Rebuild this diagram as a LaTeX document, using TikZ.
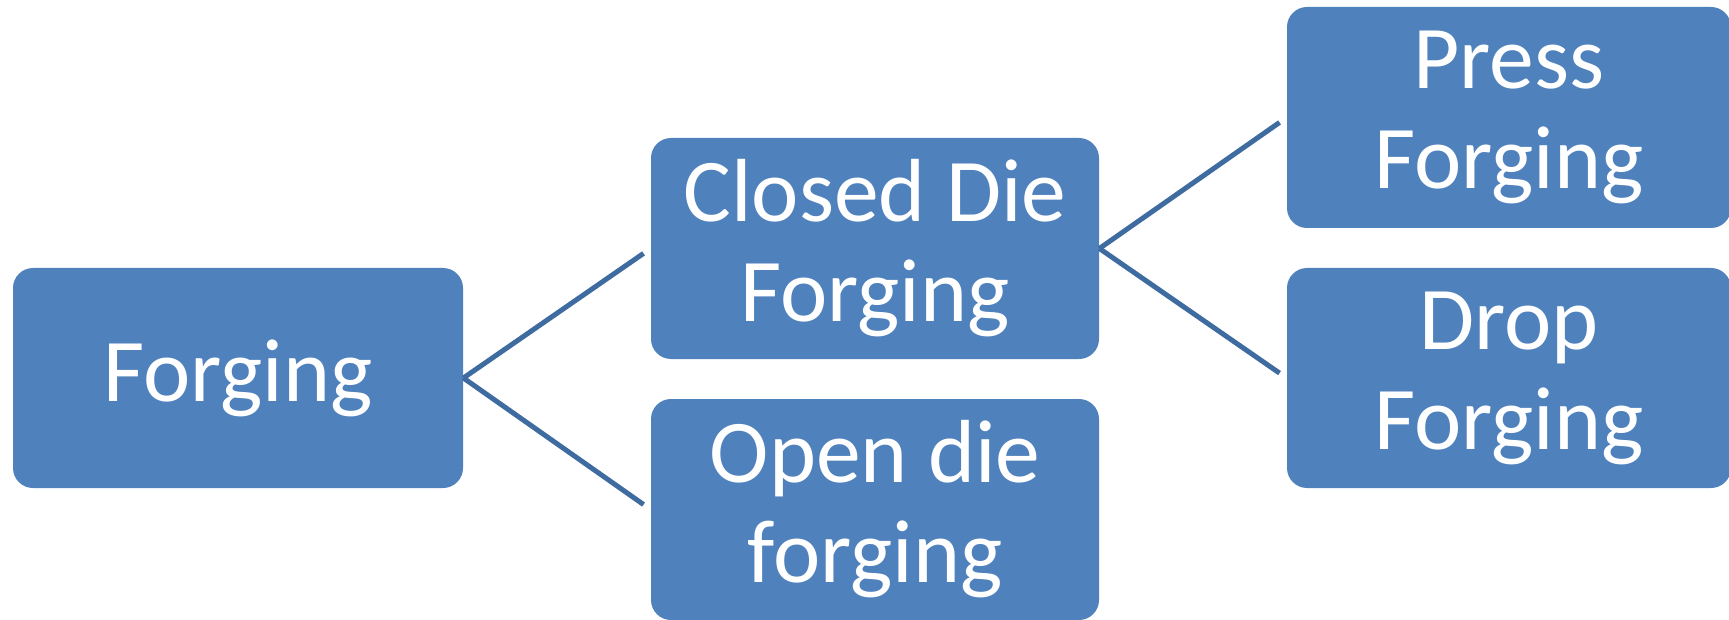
\documentclass[tikz,border=0pt]{standalone}
\usepackage{fontspec}
\setmainfont{Carlito}
\usepackage{tikz}
\definecolor{boxblue}{RGB}{79,129,189}
\definecolor{lineblue}{RGB}{63,108,160}

\begin{document}
\begin{tikzpicture}[x=0.5pt,y=-0.5pt,
    box/.style={fill=boxblue, rounded corners=10pt, minimum width=224pt, minimum height=110.5pt,
      inner sep=0pt, align=center, text=white, font=\fontsize{44.8}{50}\selectfont},
    link/.style={draw=lineblue, line width=2.5pt, shorten >=4.3pt}]
    \useasboundingbox (0,0) rectangle (1729,620);
    % 箱
    \node[box, minimum width=225pt, minimum height=110pt] (forging) at (238,378) {Forging};
    \node[box] (closed) at (875,248.5) {Closed Die\\Forging};
    \node[box] (open) at (875,509.5) {Open die\\forging};
    \node[box, minimum width=222pt] (press) at (1509,117.5) {Press\\Forging};
    \node[box, minimum width=222pt, minimum height=110pt] (drop) at (1509,378) {Drop\\Forging};
    % 線
    \draw[link] (forging.east) -- (closed.west);
    \draw[link] (forging.east) -- (open.west);
    \draw[link] (closed.east) -- (press.west);
    \draw[link] (closed.east) -- (drop.west);
\end{tikzpicture}
\end{document}
